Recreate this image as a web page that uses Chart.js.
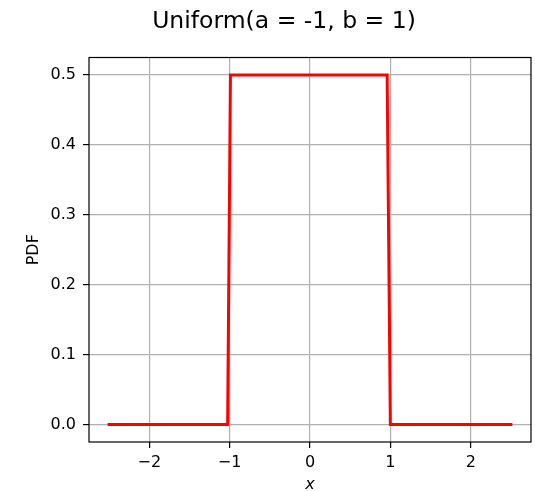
<!DOCTYPE html>
<html>
<head>
<meta charset="utf-8">
<script src="https://cdn.jsdelivr.net/npm/chart.js@4"></script>
<style>
  html, body { margin: 0; padding: 0; background: #fff; }
  #wrap { width: 535px; height: 491px; position: relative; }
</style>
</head>
<body>
<div id="wrap"><canvas id="pdfChart"></canvas></div>
<script>
// density curve of Uniform(-1, 1), sampled
const xValues = [-2.5, -1.025, -0.99, 0.96, 1.0, 2.5];
const pdfValues = [0, 0, 0.5, 0.5, 0, 0];

const xTicks = [-2, -1, 0, 1, 2];
const yTicks = [0, 0.1, 0.2, 0.3, 0.4, 0.5];

const font = 'DejaVu Sans';

// full black frame round the plot area
const frame = {
  id: 'frame',
  afterDraw(chart) {
    const { ctx, chartArea: a } = chart;
    ctx.save();
    ctx.strokeStyle = '#000';
    ctx.lineWidth = 1.2;
    ctx.strokeRect(a.left, a.top, a.right - a.left, a.bottom - a.top);
    ctx.restore();
  }
};

const ctx = document.getElementById('pdfChart').getContext('2d');

new Chart(ctx, {
  type: 'scatter',
  data: {
    datasets: [{
      data: xValues.map((x, i) => ({ x: x, y: pdfValues[i] })),
      showLine: true,
      borderColor: '#ff0000',
      borderWidth: 3,
      borderCapStyle: 'square',
      pointRadius: 0,
      tension: 0
    }]
  },
  options: {
    responsive: true,
    maintainAspectRatio: false,
    animation: false,
    devicePixelRatio: 1,
    layout: { padding: { left: 37, right: 4, top: 0, bottom: 0 } },
    plugins: {
      legend: { display: false },
      tooltip: { enabled: false },
      title: {
        display: true,
        text: 'Uniform(a = -1, b = 1)',
        color: '#000',
        font: { family: font, size: 23.5, weight: 'normal' },
        padding: { top: 7.5, bottom: 21.8 }
      }
    },
    scales: {
      x: {
        type: 'linear',
        min: -2.75,
        max: 2.75,
        afterBuildTicks: s => { s.ticks = xTicks.map(v => ({ value: v })); },
        afterFit: s => { s.height = 49; },
        grid: { color: '#b0b0b0', lineWidth: 1.2, tickColor: '#000', tickLength: 6, tickWidth: 1.2 },
        border: { display: false },
        ticks: {
          color: '#000',
          padding: 5,
          maxRotation: 0,
          font: { family: font, size: 16 },
          callback: v => String(v).replace('-', '\u2212')
        },
        title: {
          display: true,
          text: 'x',
          color: '#000',
          font: { family: font, size: 16, style: 'italic' },
          padding: { top: 0, bottom: -3 }
        }
      },
      y: {
        type: 'linear',
        min: -0.025,
        max: 0.525,
        afterBuildTicks: s => { s.ticks = yTicks.map(v => ({ value: v })); },
        afterFit: s => { s.width = 52; },
        grid: { color: '#b0b0b0', lineWidth: 1.2, tickColor: '#000', tickLength: 6, tickWidth: 1.2 },
        border: { display: false },
        ticks: {
          color: '#000',
          padding: 7,
          font: { family: font, size: 16 },
          callback: v => v.toFixed(1)
        },
        title: {
          display: true,
          text: 'PDF',
          color: '#000',
          font: { family: font, size: 16 },
          padding: { top: -13, bottom: 0 }
        }
      }
    }
  },
  plugins: [frame]
});
</script>
</body>
</html>
